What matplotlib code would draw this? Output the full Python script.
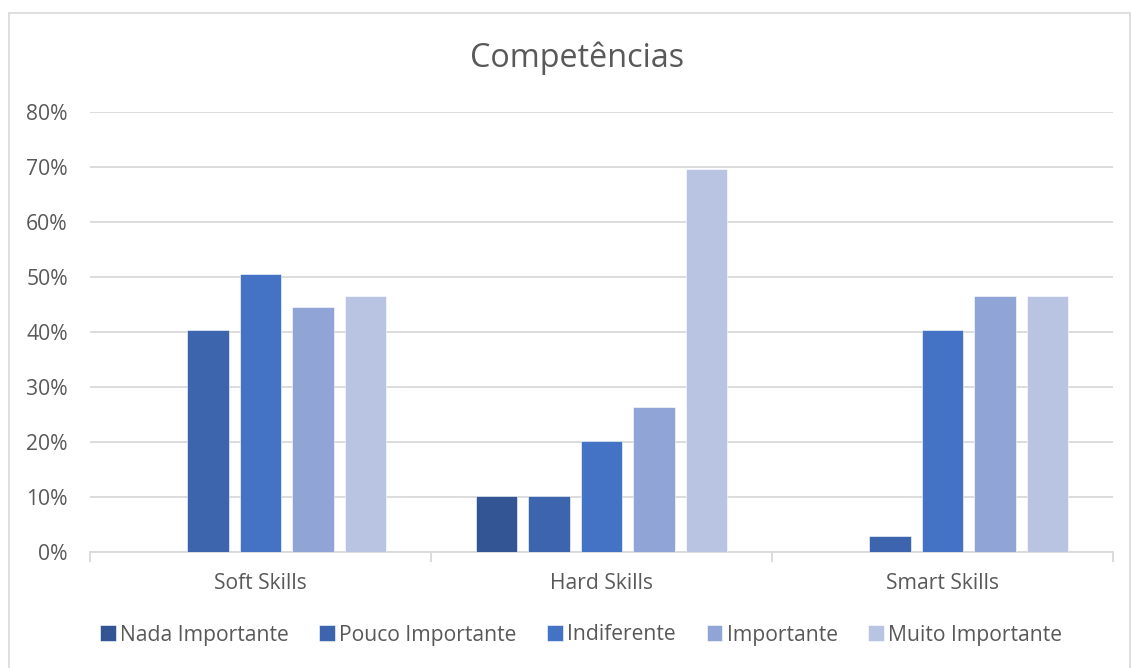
import matplotlib.pyplot as plt
import numpy as np
from matplotlib.patches import Rectangle
from matplotlib.ticker import PercentFormatter

# ----------------- Data -----------------
categories = ["Soft Skills", "Hard Skills", "Smart Skills"]
series_names = ["Nada Importante", "Pouco Importante", "Indiferente", "Importante", "Muito Importante"]
nada = [0.0, 10.2, 0.0]
pouco = [40.4, 10.1, 3.0]
indiferente = [50.5, 20.2, 40.4]
importante = [44.5, 26.3, 46.5]
muito = [46.5, 69.7, 46.5]
colors = ["#335593", "#3d65ad", "#4472c4", "#90a4d5", "#b9c3e2"]

values = [nada, pouco, indiferente, importante, muito]

plt.rcParams["font.family"] = ["Open Sans", "DejaVu Sans"]
text_color = "#595959"
grid_color = "#d9d9d9"

fig = plt.figure(figsize=(11.32, 6.68), dpi=100)
ax = fig.add_axes([90 / 1132, 1 - 552 / 668, 1023 / 1132, 440 / 668])

# outer chart border
fig.patches.append(Rectangle((9 / 1132, -0.05), 1121 / 1132, 1.05 - 13 / 668,
                             transform=fig.transFigure, fill=False,
                             edgecolor=grid_color, linewidth=1.2))

x = np.arange(len(categories))
step = 0.154
width = 0.122
for i, (name, vals, c) in enumerate(zip(series_names, values, colors)):
    ax.bar(x + (i - 2) * step, vals, width, color=c, label=name,
           edgecolor="white", linewidth=0.4, zorder=3)

ax.set_xlim(-0.5, 2.5)
ax.set_ylim(0, 80)
ax.set_yticks(np.arange(0, 81, 10))
ax.yaxis.set_major_formatter(PercentFormatter(decimals=0))
ax.grid(axis="y", color=grid_color, linewidth=1.3, zorder=0)
ax.set_axisbelow(True)

for s in ["top", "right", "left"]:
    ax.spines[s].set_visible(False)
ax.spines["bottom"].set_color(grid_color)
ax.spines["bottom"].set_linewidth(1.3)

ax.set_xticks(x)
ax.set_xticklabels(categories)
ax.set_xticks([-0.5, 0.5, 1.5, 2.5], minor=True)
ax.tick_params(axis="x", which="major", length=0, pad=15, labelsize=15.2, labelcolor=text_color)
ax.tick_params(axis="x", which="minor", length=7, width=1.3, color=grid_color)
ax.tick_params(axis="y", length=0, pad=16, labelsize=15.2, labelcolor=text_color)

fig.text(577 / 1132, 1 - 58 / 668, "Competências", ha="center", va="center",
         fontsize=23.3, color=text_color)

leg = fig.legend(loc="center", bbox_to_anchor=(581 / 1132, 1 - 635 / 668), ncol=5,
                 frameon=False, fontsize=15.2, handlelength=0.75, handleheight=0.75,
                 handletextpad=0.2, columnspacing=1.45, labelcolor=text_color)

fig.savefig("out.png", dpi=100)
